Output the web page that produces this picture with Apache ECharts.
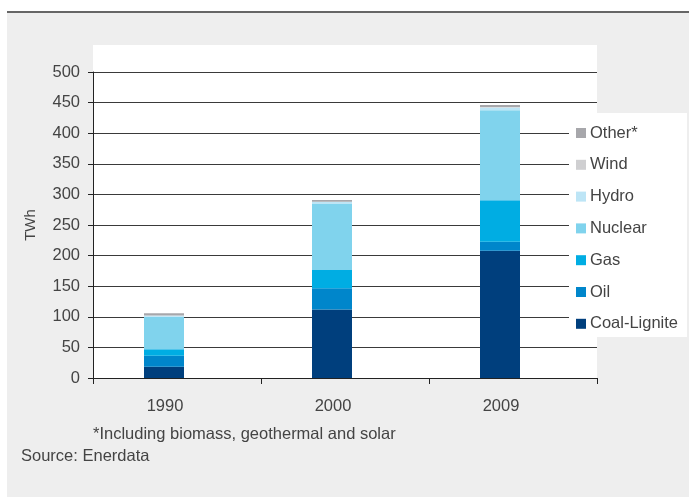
<!DOCTYPE html>
<html>
<head>
<meta charset="utf-8">
<script src="https://cdn.jsdelivr.net/npm/echarts@6/dist/echarts.min.js"></script>
<style>
  html, body { margin: 0; padding: 0; background: #ffffff; }
  #chart { width: 689px; height: 497px; }
</style>
</head>
<body>
<div id="chart"></div>
<script>
// Electricity generation by source, TWh
const years = ['1990', '2000', '2009'];
const coalLignite = [18.5, 112, 208];
const oil = [18, 34.5, 14.5];
const gas = [10.5, 30, 68];
const nuclear = [53, 108, 147];
const hydro = [2.3, 3.3, 4.4];
const wind = [0, 0, 1];
const other = [3.3, 3.2, 3];
const yTicks = [0, 50, 100, 150, 200, 250, 300, 350, 400, 450, 500];

const FONT = '"Liberation Sans", Arial, sans-serif';
const TEXT = '#444444';

const seriesDefs = [
  { name: 'Coal-Lignite', data: coalLignite, color: '#003f7d' },
  { name: 'Oil', data: oil, color: '#0086cb' },
  { name: 'Gas', data: gas, color: '#00ade3' },
  { name: 'Nuclear', data: nuclear, color: '#80d3ed' },
  { name: 'Hydro', data: hydro, color: '#bde5f6' },
  { name: 'Wind', data: wind, color: '#cfcfd1' },
  { name: 'Other*', data: other, color: '#a7a7ab' }
];

const chart = echarts.init(document.getElementById('chart'), null, { renderer: 'canvas' });

const barSeries = seriesDefs.map(s => ({
  name: s.name,
  type: 'bar',
  stack: 'total',
  barWidth: 40,
  barGap: '0%',
  data: s.data,
  itemStyle: { color: s.color },
  emphasis: { disabled: true }
}));

// empty spacer stack: keeps the columns left of the category centre
barSeries.push({
  name: 'spacer',
  type: 'bar',
  stack: 'spacer',
  barWidth: 26,
  data: years.map(() => null),
  silent: true
});

chart.setOption({
  animation: false,
  backgroundColor: '#ffffff',
  textStyle: { fontFamily: FONT },
  graphic: [
    { type: 'rect', z: -10, shape: { x: 7, y: 13, width: 682, height: 484 }, style: { fill: '#eeeeee' } },
    { type: 'line', z: -9, shape: { x1: 7, y1: 12, x2: 689, y2: 12 }, style: { stroke: '#333333', lineWidth: 1.5 } },
    { type: 'rect', z: -8, shape: { x: 93, y: 45, width: 504, height: 333 }, style: { fill: '#ffffff' } },
    { type: 'rect', z: 1, shape: { x: 569, y: 113, width: 118, height: 224 }, style: { fill: '#ffffff' } },
    { type: 'text', z: 5, left: 93, top: 426, style: { text: '*Including biomass, geothermal and solar', fill: TEXT, font: '16.5px ' + FONT } },
    { type: 'text', z: 5, left: 21, top: 448, style: { text: 'Source: Enerdata', fill: TEXT, font: '16.5px ' + FONT } }
  ],
  legend: {
    orient: 'vertical',
    left: 576,
    top: 124,
    itemWidth: 10,
    itemHeight: 10,
    itemGap: 13.8,
    icon: 'rect',
    data: ['Other*', 'Wind', 'Hydro', 'Nuclear', 'Gas', 'Oil', 'Coal-Lignite'],
    textStyle: { fontFamily: FONT, fontSize: 16.5, color: TEXT, lineHeight: 18, padding: [0, 0, 0, -1] },
    padding: 0
  },
  grid: { left: 93, right: 92, top: 72, bottom: 119, containLabel: false },
  xAxis: {
    type: 'category',
    data: years,
    boundaryGap: true,
    axisLine: { lineStyle: { color: '#222222', width: 1 } },
    axisTick: { show: true, length: 6, lineStyle: { color: '#222222' } },
    axisLabel: { color: TEXT, fontSize: 16.5, fontFamily: FONT, margin: 20, padding: [0, 24, 0, 0] }
  },
  yAxis: {
    type: 'value',
    min: 0,
    max: 500,
    interval: 50,
    name: 'TWh',
    nameLocation: 'middle',
    nameGap: 55,
    nameRotate: 90,
    nameTextStyle: { color: TEXT, fontSize: 15, fontFamily: FONT },
    axisLine: { show: true, lineStyle: { color: '#222222', width: 1 } },
    axisTick: { show: true, length: 5, lineStyle: { color: '#222222' } },
    axisLabel: {
      color: TEXT, fontSize: 16.5, fontFamily: FONT, margin: 13,
      formatter: v => (yTicks.indexOf(v) >= 0 ? String(v) : '')
    },
    splitLine: { show: true, lineStyle: { color: '#3a3a3a', width: 1 } }
  },
  series: barSeries
});
</script>
</body>
</html>
